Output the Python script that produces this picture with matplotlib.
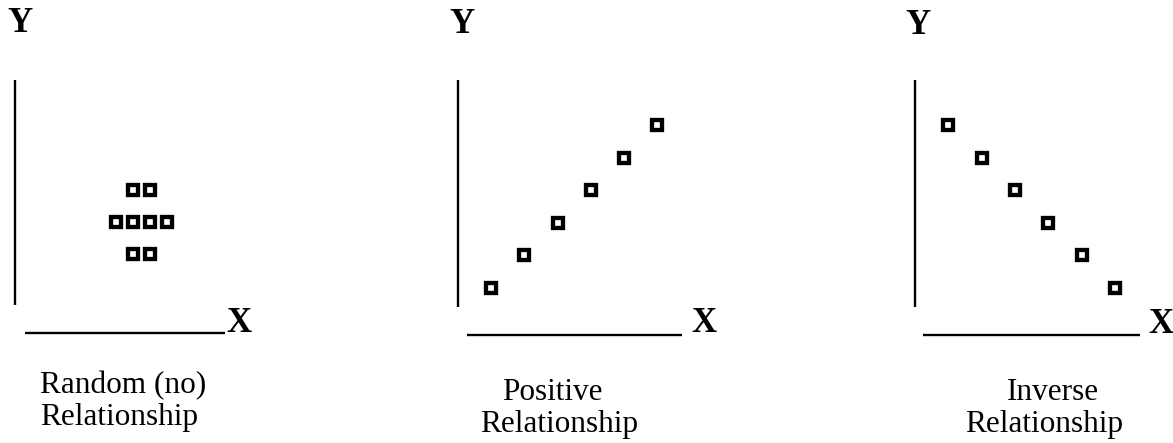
import matplotlib
matplotlib.use("Agg")
import matplotlib.pyplot as plt

# ---- data ----
random_x = [3.8, 4.35, 3.25, 3.8, 4.35, 4.9, 3.8, 4.35]
random_y = [4, 4, 3, 3, 3, 3, 2, 2]
positive_x = [1, 2, 3, 4, 5, 6]
positive_y = [1, 2, 3, 4, 5, 6]
inverse_x = [1, 2, 3, 4, 5, 6]
inverse_y = [6, 5, 4, 3, 2, 1]
caption_lines = [["Random (no)", "Relationship"],
                 ["Positive", "Relationship"],
                 ["Inverse", "Relationship"]]

W, H = 1173, 443
fig = plt.figure(figsize=(W / 100, H / 100), dpi=100)
fig.patch.set_facecolor("white")

def fx(px):
    return px / W

def fy(py):
    return 1 - py / H

# panel boxes in pixels: left, right, top, bottom, vline bottom, hline start
boxes = [
    (15, 225, 80, 333, 305, 25),
    (458, 682, 80, 335, 307, 467),
    (915, 1140, 80, 335, 307, 923),
]
series = [(random_x, random_y), (positive_x, positive_y), (inverse_x, inverse_y)]

y_lab = [(20, 32), (462, 33), (918, 34)]
x_lab = [(239, 332), (704, 332), (1161, 333)]
cap_pos = [[(40, 393), (40, 425)],
           [(502, 400), (480, 432)],
           [(1007, 400), (965, 432)]]

serif = ["Liberation Serif", "DejaVu Serif"]

for i, (l, r, t, b, vb, hs) in enumerate(boxes):
    ax = fig.add_axes([fx(l), fy(b), fx(r) - fx(l), fy(t) - fy(b)])
    ax.set_xlim(0, 6.75)
    ax.set_ylim(-0.45, 7.4)
    ax.axis("off")
    xs, ys = series[i]
    ax.plot(xs, ys, linestyle="none", marker="s", markersize=6.8,
            markeredgewidth=3.1, markeredgecolor="black",
            markerfacecolor="white")
    # axis lines
    ax.plot([0, 0], [(b - vb) / (b - t), 1], color="black", lw=1.7,
            transform=ax.transAxes, clip_on=False, solid_capstyle="butt")
    ax.plot([(hs - l) / (r - l), 1], [0, 0], color="black", lw=1.7,
            transform=ax.transAxes, clip_on=False, solid_capstyle="butt")

    fig.text(fx(y_lab[i][0]), fy(y_lab[i][1]), "Y", ha="center", va="baseline",
             fontsize=25, fontweight="bold", family=serif)
    fig.text(fx(x_lab[i][0]), fy(x_lab[i][1]), "X", ha="center", va="baseline",
             fontsize=25, fontweight="bold", family=serif)
    for txt, (px, py) in zip(caption_lines[i], cap_pos[i]):
        fig.text(fx(px), fy(py), txt, ha="left", va="baseline",
                 fontsize=22.5, family=serif)

fig.savefig("out.png", dpi=100, facecolor="white")
